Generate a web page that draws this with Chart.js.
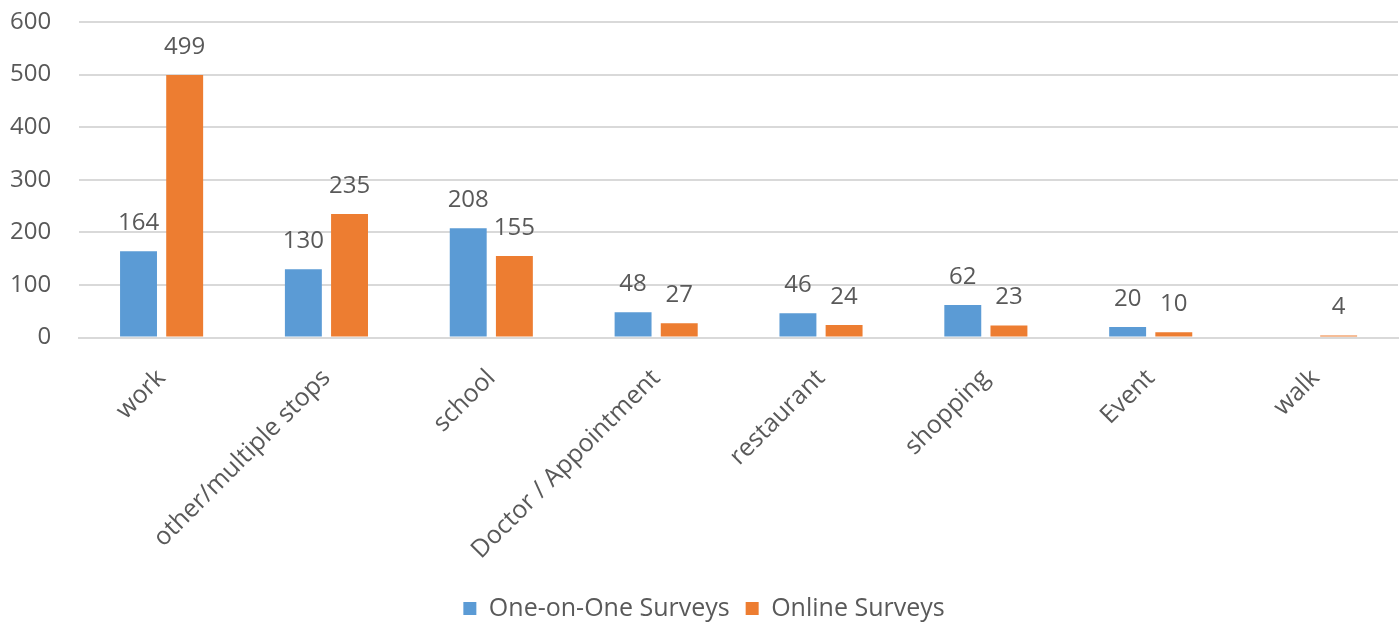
<!DOCTYPE html>
<html>
<head>
<meta charset="utf-8">
<script src="https://cdn.jsdelivr.net/npm/chart.js@4"></script>
<style>
  html, body { margin: 0; padding: 0; background: #fff; }
  #wrap { width: 1400px; height: 625px; }
</style>
</head>
<body>
<div id="wrap"><canvas id="chart"></canvas></div>
<script>
// trip purpose counts
var categories = ['work', 'other/multiple stops', 'school', 'Doctor / Appointment', 'restaurant', 'shopping', 'Event', 'walk'];
var oneOnOne = [164, 130, 208, 48, 46, 62, 20, null];
var online = [499, 235, 155, 27, 24, 23, 10, 4];
var yTicks = [0, 100, 200, 300, 400, 500, 600];

var FONT = 'Open Sans';
var GREY = '#595959';

// value labels above the bars, like the excel data labels
var barLabels = {
    id: 'barLabels',
    afterDatasetsDraw: function(chart){
        var ctx = chart.ctx;
        ctx.save();
        ctx.font = '24px "' + FONT + '"';
        ctx.fillStyle = GREY;
        ctx.textAlign = 'center';
        ctx.textBaseline = 'bottom';
        chart.data.datasets.forEach(function(ds, i){
            var meta = chart.getDatasetMeta(i);
            meta.data.forEach(function(bar, j){
                if(ds.data[j] == null) return;
                ctx.fillText(String(ds.data[j]), bar.x, bar.y - 16);
            });
        });
        ctx.restore();
    }
};

new Chart(document.getElementById('chart'), {
    type: 'bar',
    data: {
        labels: categories,
        datasets: [
            {label: 'One-on-One Surveys', data: oneOnOne, backgroundColor: '#5B9BD5'},
            {label: 'Online Surveys', data: online, backgroundColor: '#ED7D31'}
        ]
    },
    options: {
        responsive: true,
        maintainAspectRatio: false,
        animation: false,
        categoryPercentage: 0.56,
        barPercentage: 0.8,
        layout: {padding: {top: 22, right: 2, left: 10, bottom: -6}},
        plugins: {
            tooltip: {enabled: false},
            legend: {
                position: 'bottom',
                labels: {
                    font: {family: FONT, size: 25},
                    color: GREY,
                    boxWidth: 13,
                    boxHeight: 13,
                    padding: 16
                }
            }
        },
        scales: {
            x: {
                grid: {display: false},
                border: {display: true, color: '#D9D9D9', width: 2},
                afterFit: function(axis){
                    axis.paddingLeft = 0;
                    axis.paddingRight = 0;
                    axis.height -= 3;
                },
                ticks: {
                    font: {family: FONT, size: 25},
                    color: GREY,
                    maxRotation: 45,
                    minRotation: 45,
                    autoSkip: false,
                    padding: 18
                }
            },
            y: {
                min: 0,
                max: 600,
                afterBuildTicks: function(axis){
                    axis.ticks = yTicks.map(function(v){ return {value: v}; });
                },
                afterFit: function(axis){
                    // chart.js reserves the tick padding twice on the y axis
                    axis.width -= 28;
                    axis.paddingTop = 0;
                    axis.paddingBottom = 0;
                },
                grid: {color: '#D9D9D9', lineWidth: 2, drawTicks: false},
                border: {display: false},
                ticks: {
                    font: {family: FONT, size: 24},
                    color: GREY,
                    padding: 28
                }
            }
        }
    },
    plugins: [barLabels]
});
</script>
</body>
</html>
